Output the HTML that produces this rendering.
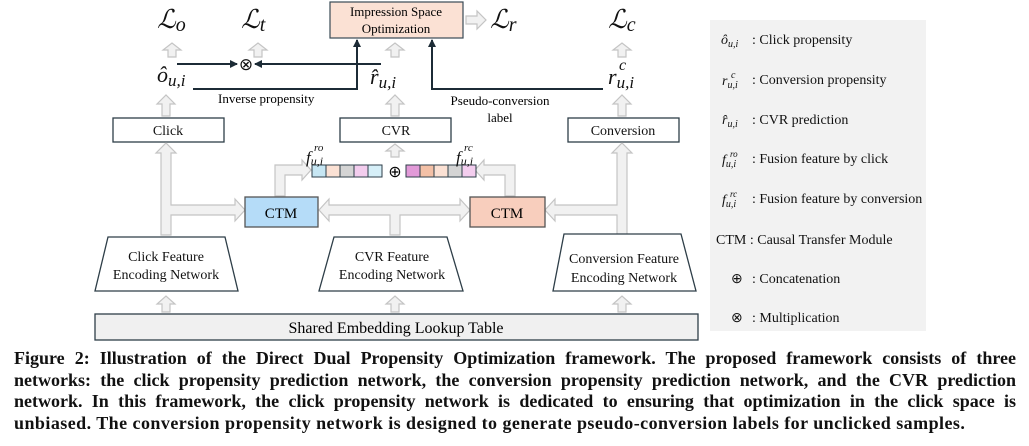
<!DOCTYPE html>
<html><head><meta charset="utf-8"><style>
html,body{margin:0;padding:0;background:#fff;}
body{width:1029px;height:446px;position:relative;overflow:hidden;font-family:"Liberation Serif",serif;}
svg{position:absolute;left:0;top:0;}
.cap{position:absolute;left:14px;width:1002px;font-weight:bold;font-size:18px;letter-spacing:0.45px;line-height:21.5px;color:#111;}
.j{text-align:justify;text-align-last:justify;white-space:nowrap;letter-spacing:0;}
</style></head><body>
<svg width="1029" height="346" viewBox="0 0 1029 346" font-family="Liberation Serif, serif">
<defs>
<marker id="ah" markerWidth="8" markerHeight="8" refX="7" refY="4" orient="auto" markerUnits="userSpaceOnUse"><path d="M0,0 L8,4 L0,8 z" fill="#1c2b36"/></marker>
</defs>
<!-- legend -->
<rect x="710" y="20" width="216" height="311" fill="#f2f2f2"/>
<g font-size="14" fill="#111">
<text x="721" y="44" font-style="italic">ô<tspan font-size="10" dy="3">u,i</tspan></text>
<text x="752" y="44">: Click propensity</text>
<text x="722" y="85" font-style="italic">r<tspan font-size="10" dy="3">u,i</tspan></text>
<text x="731" y="78" font-style="italic" font-size="10">c</text>
<text x="752" y="84">: Conversion propensity</text>
<text x="722" y="124" font-style="italic">r̂<tspan font-size="10" dy="3">u,i</tspan></text>
<text x="752" y="124">: CVR prediction</text>
<text x="722" y="164" font-style="italic">f<tspan font-size="10" dy="3">u,i</tspan></text>
<text x="730" y="157" font-style="italic" font-size="9">ro</text>
<text x="752" y="163">: Fusion feature by click</text>
<text x="722" y="204" font-style="italic">f<tspan font-size="10" dy="3">u,i</tspan></text>
<text x="730" y="197" font-style="italic" font-size="9">rc</text>
<text x="752" y="203">: Fusion feature by conversion</text>
<text x="716" y="244">CTM : Causal Transfer Module</text>
<text x="731" y="283">⊕</text><text x="752" y="283">: Concatenation</text>
<text x="731" y="322">⊗</text><text x="752" y="322">: Multiplication</text>
</g>
<!-- ISO box -->
<rect x="330" y="2" width="133" height="36" fill="#fbe1d4" stroke="#3a4a55" stroke-width="1.2"/>
<text x="396" y="16" font-size="13" text-anchor="middle">Impression Space</text>
<text x="396" y="33" font-size="13" text-anchor="middle">Optimization</text>
<g font-size="26" font-style="italic" fill="#111">
<text x="157" y="28">ℒ<tspan font-size="20" dy="3">o</tspan></text>
<text x="241" y="28">ℒ<tspan font-size="20" dy="3">t</tspan></text>
<text x="490" y="28">ℒ<tspan font-size="20" dy="3">r</tspan></text>
<text x="608" y="28">ℒ<tspan font-size="20" dy="3">c</tspan></text>
</g>
<g font-size="22" font-style="italic" fill="#111">
<text x="157" y="82">ô<tspan font-size="17" dy="4">u,i</tspan></text>
<text x="370" y="84">r̂<tspan font-size="17" dy="4">u,i</tspan></text>
<text x="608" y="84">r<tspan font-size="17" dy="4">u,i</tspan></text>
<text x="619" y="70" font-size="16">c</text>
</g>
<!-- dark connectors -->
<g stroke="#1c2b36" stroke-width="2" fill="none">
<line x1="177" y1="64" x2="237" y2="64" marker-end="url(#ah)"/>
<line x1="381" y1="64" x2="255" y2="64" marker-end="url(#ah)"/>
<polyline points="193,89 357,89 357,40" marker-end="url(#ah)"/>
<polyline points="603,89 432,89 432,40" marker-end="url(#ah)"/>
</g>
<text x="246" y="70" font-size="17" text-anchor="middle" fill="#111">⊗</text>
<text x="218" y="103" font-size="13">Inverse propensity</text>
<text x="500" y="105" font-size="13" text-anchor="middle">Pseudo-conversion</text>
<text x="500" y="122" font-size="13" text-anchor="middle">label</text>
<!-- boxes -->
<g stroke="#2e3e48" stroke-width="1.3" fill="#fff">
<rect x="113" y="118" width="111" height="24"/>
<rect x="340" y="118" width="111" height="24"/>
<rect x="568" y="118" width="111" height="24"/>
</g>
<g font-size="14" text-anchor="middle" fill="#111">
<text x="168" y="135">Click</text>
<text x="396" y="135">CVR</text>
<text x="623" y="135">Conversion</text>
</g>
<!-- gray hollow arrows -->
<g fill="#f1f1f1" stroke="#c4c4c4" stroke-width="1.2">
<polygon points="168,57 168,50 163,50 172,43 181,50 176,50 176,57"/>
<polygon points="254,57 254,50 249,50 258,43 267,50 262,50 262,57"/>
<polygon points="391,57 391,50 386,50 395,43 404,50 399,50 399,57"/>
<polygon points="618,57 618,50 613,50 622,43 631,50 626,50 626,57"/>
<polygon points="162,116 162,104 157,104 166,95 175,104 170,104 170,116"/>
<polygon points="391,116 391,104 386,104 395,95 404,104 399,104 399,116"/>
<polygon points="618,116 618,104 613,104 622,95 631,104 626,104 626,116"/>
<polygon points="391,157 391,151 386,151 395,144 404,151 399,151 399,157"/>
<polygon points="466,16 477,16 477,11 486,20 477,29 477,24 466,24"/>
<polygon points="161,235 161,153 156,153 166,143 176,153 171,153 171,205 235,205 235,199 245,210 235,221 235,215 171,215 171,235"/>
<polygon points="627,235 627,153 632,153 622,143 612,153 617,153 617,205 555,205 555,199 545,210 555,221 555,215 617,215 617,235"/>
<polygon points="390,235 390,215 329,215 329,221 319,210 329,199 329,205 460,205 460,199 470,210 460,221 460,215 400,215 400,235"/>
<polygon points="275,196 275,165 302,165 302,160 311,170 302,180 302,175 285,175 285,196"/>
<polygon points="515,196 515,165 484,165 484,160 475,170 484,180 484,175 505,175 505,196"/>
<polygon points="162,312 162,304 157,304 166,296 175,304 170,304 170,312"/>
<polygon points="391,312 391,304 386,304 395,296 404,304 399,304 399,312"/>
<polygon points="618,312 618,304 613,304 622,296 631,304 626,304 626,312"/>
</g>
<!-- feature bars -->
<g stroke="#2e3e48" stroke-width="1">
<rect x="312" y="165" width="14" height="12" fill="#c6e6f3"/>
<rect x="326" y="165" width="14" height="12" fill="#fbe1d4"/>
<rect x="340" y="165" width="14" height="12" fill="#d4d4d4"/>
<rect x="354" y="165" width="14" height="12" fill="#f3cdee"/>
<rect x="368" y="165" width="14" height="12" fill="#d6eff8"/>
<rect x="406" y="165" width="14" height="12" fill="#e29ad8"/>
<rect x="420" y="165" width="14" height="12" fill="#f3c0a6"/>
<rect x="434" y="165" width="14" height="12" fill="#fbe1d4"/>
<rect x="448" y="165" width="14" height="12" fill="#d4d4d4"/>
<rect x="462" y="165" width="14" height="12" fill="#f3cdee"/>
</g>
<text x="395" y="177" font-size="16" text-anchor="middle">⊕</text>
<g font-style="italic" fill="#111">
<text x="306" y="163" font-size="17">f<tspan font-size="12" dy="2">u,i</tspan></text>
<text x="314" y="151" font-size="11">ro</text>
<text x="456" y="163" font-size="17">f<tspan font-size="12" dy="2">u,i</tspan></text>
<text x="464" y="151" font-size="11">rc</text>
</g>
<!-- CTMs -->
<rect x="245" y="197" width="73" height="30" fill="#b5dcf8" stroke="#555" stroke-width="1.3"/>
<rect x="470" y="197" width="75" height="30" fill="#f8cebd" stroke="#555" stroke-width="1.3"/>
<text x="281" y="218" font-size="15" text-anchor="middle">CTM</text>
<text x="507" y="218" font-size="15" text-anchor="middle">CTM</text>
<!-- trapezoids -->
<g fill="#fff" stroke="#2e3e48" stroke-width="1.3">
<polygon points="108,237 225,237 238,291 95,291"/>
<polygon points="334,237 447,237 463,291 319,291"/>
<polygon points="564,234 681,234 696,291 553,291"/>
</g>
<g font-size="14" text-anchor="middle" fill="#111">
<text x="166" y="261">Click Feature</text>
<text x="166" y="279">Encoding Network</text>
<text x="392" y="261">CVR Feature</text>
<text x="392" y="279">Encoding Network</text>
<text x="624" y="263">Conversion Feature</text>
<text x="624" y="282">Encoding Network</text>
</g>
<rect x="95" y="314" width="603" height="26" fill="#f0f0f0" stroke="#2e3e48" stroke-width="1.3"/>
<text x="396" y="333" font-size="16" text-anchor="middle">Shared Embedding Lookup Table</text>
</svg>
<div class="cap j" style="top:348px">Figure 2: Illustration of the Direct Dual Propensity Optimization framework. The proposed framework consists of three</div>
<div class="cap j" style="top:369.5px">networks: the click propensity prediction network, the conversion propensity prediction network, and the CVR prediction</div>
<div class="cap j" style="top:391px">network. In this framework, the click propensity network is dedicated to ensuring that optimization in the click space is</div>
<div class="cap" style="top:412.5px;white-space:nowrap">unbiased. The conversion propensity network is designed to generate pseudo-conversion labels for unclicked samples.</div>
</body></html>
